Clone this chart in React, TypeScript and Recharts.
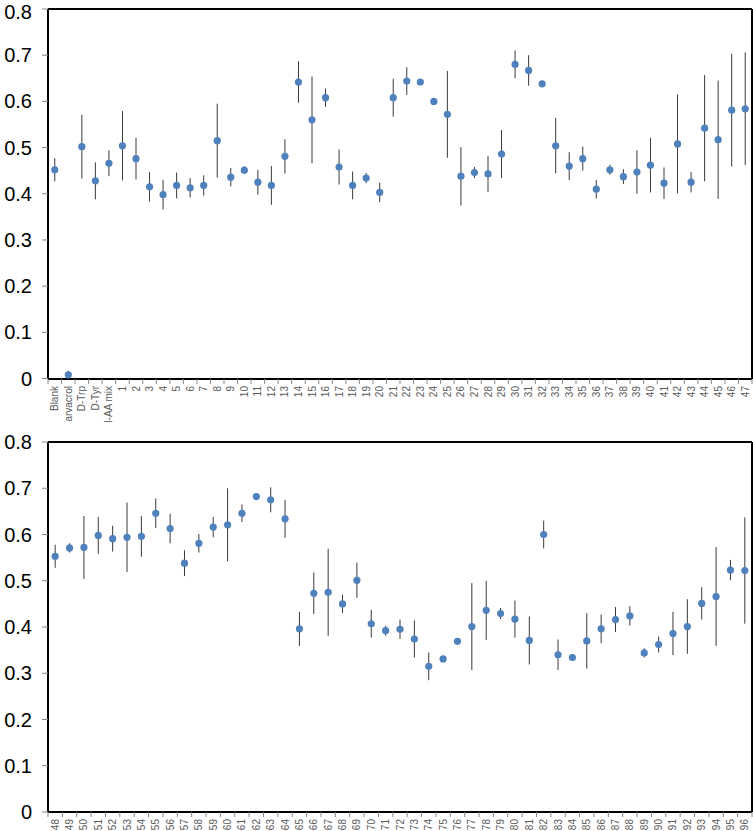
import {
  ComposedChart,
  Scatter,
  ErrorBar,
  XAxis,
  YAxis,
  CartesianGrid,
} from 'recharts'

const topLabels = [
  'Blank', 'arvacrol', 'D-Trp', 'D-Tyr', 'l-AA mix',
  '1', '2', '3', '4', '5', '6', '7', '8', '9', '10',
  '11', '12', '13', '14', '15', '16', '17', '18', '19', '20',
  '21', '22', '23', '24', '25', '26', '27', '28', '29', '30',
  '31', '32', '33', '34', '35', '36', '37', '38', '39', '40',
  '41', '42', '43', '44', '45', '46', '47',
]
const topValues = [
  0.452, 0.008, 0.502, 0.428, 0.466,
  0.504, 0.476, 0.415, 0.398, 0.418, 0.413, 0.418, 0.515, 0.436, 0.451,
  0.425, 0.418, 0.481, 0.642, 0.56, 0.608, 0.458, 0.418, 0.434, 0.403,
  0.608, 0.644, 0.642, 0.6, 0.572, 0.438, 0.446, 0.443, 0.486, 0.68,
  0.667, 0.638, 0.504, 0.46, 0.476, 0.41, 0.452, 0.437, 0.447, 0.462,
  0.423, 0.508, 0.425, 0.542, 0.517, 0.581, 0.584,
]
const topErrors = [
  0.025, 0.009, 0.069, 0.04, 0.028,
  0.075, 0.045, 0.032, 0.032, 0.028, 0.021, 0.022, 0.08, 0.02, 0.008,
  0.027, 0.042, 0.037, 0.045, 0.094, 0.02, 0.038, 0.03, 0.011, 0.021,
  0.041, 0.03, 0.002, 0.005, 0.094, 0.063, 0.012, 0.039, 0.052, 0.03,
  0.033, 0.002, 0.06, 0.03, 0.026, 0.02, 0.011, 0.016, 0.047, 0.059,
  0.034, 0.107, 0.022, 0.115, 0.128, 0.122, 0.122,
]

const bottomLabels = [
  '48', '49', '50', '51', '52', '53', '54', '55', '56', '57',
  '58', '59', '60', '61', '62', '63', '64', '65', '66', '67',
  '68', '69', '70', '71', '72', '73', '74', '75', '76', '77',
  '78', '79', '80', '81', '82', '83', '84', '85', '86', '87',
  '88', '89', '90', '91', '92', '93', '94', '95', '96',
]
const bottomValues = [
  0.553, 0.571, 0.572, 0.598, 0.591, 0.594, 0.596, 0.646, 0.613, 0.538,
  0.581, 0.616, 0.621, 0.646, 0.682, 0.675, 0.634, 0.396, 0.473, 0.475,
  0.45, 0.501, 0.407, 0.392, 0.395, 0.374, 0.315, 0.331, 0.369, 0.401,
  0.436, 0.429, 0.417, 0.371, 0.6, 0.34, 0.334, 0.37, 0.396, 0.416,
  0.424, 0.344, 0.362, 0.386, 0.401, 0.451, 0.466, 0.523, 0.522,
]
const bottomErrors = [
  0.025, 0.01, 0.068, 0.04, 0.028, 0.075, 0.044, 0.032, 0.032, 0.028,
  0.02, 0.022, 0.079, 0.019, 0.006, 0.027, 0.041, 0.037, 0.045, 0.094,
  0.02, 0.038, 0.03, 0.011, 0.021, 0.04, 0.03, 0.002, 0.007, 0.094,
  0.064, 0.012, 0.04, 0.052, 0.03, 0.033, 0.002, 0.06, 0.031, 0.027,
  0.021, 0.01, 0.017, 0.047, 0.059, 0.035, 0.107, 0.022, 0.115,
]

const yTicks = [0, 0.1, 0.2, 0.3, 0.4, 0.5, 0.6, 0.7, 0.8]

const FONT = '"Liberation Sans", Arial, sans-serif'
const WIDTH = 753
const PLOT_W = 704

function XTick(props: any) {
  const { x, y, payload, index, band, count } = props
  const ty = y + 2
  return (
    <g>
      <line x1={x - band / 2} x2={x - band / 2} y1={y - 5} y2={y} stroke="#868686" />
      {index === count - 1 && (
        <line x1={x + band / 2} x2={x + band / 2} y1={y - 5} y2={y} stroke="#868686" />
      )}
      <text
        x={x}
        y={ty}
        transform={`rotate(-90 ${x} ${ty})`}
        textAnchor="end"
        dy="0.35em"
        fontSize={10}
        fontFamily={FONT}
        fill="#595959"
      >
        {payload.value}
      </text>
    </g>
  )
}

function Dot(props: any) {
  return <circle cx={props.cx} cy={props.cy} r={3.6} fill="#4f81bd" />
}

function Panel({ labels, values, errors, height, top, xHeight }: any) {
  const data = labels.map((name: string, i: number) => ({
    name,
    v: values[i],
    e: errors[i],
  }))
  const band = PLOT_W / labels.length
  return (
    <ComposedChart
      width={WIDTH}
      height={height}
      data={data}
      margin={{ top, right: 1, bottom: 0, left: 0 }}
    >
      {/* top and right frame lines */}
      <CartesianGrid
        stroke="#000"
        strokeWidth={2}
        horizontalCoordinatesGenerator={({ offset }: any) => [offset.top]}
        verticalCoordinatesGenerator={({ offset }: any) => [offset.left + offset.width]}
      />
      <XAxis
        dataKey="name"
        type="category"
        interval={0}
        height={xHeight}
        padding={{ left: band / 2, right: band / 2 }}
        tickSize={5}
        tickMargin={0}
        tickLine={false}
        axisLine={{ stroke: '#000', strokeWidth: 2 }}
        tick={<XTick band={band} count={labels.length} />}
      />
      <YAxis
        domain={[0, 0.8]}
        ticks={yTicks}
        width={48}
        tickSize={6}
        tickMargin={10}
        tickLine={{ stroke: '#868686' }}
        axisLine={{ stroke: '#000', strokeWidth: 2 }}
        tick={{ fontSize: 20, fill: '#000', fontFamily: FONT }}
        tickFormatter={(v: number) => (v === 0 ? '0' : v.toFixed(1))}
      />
      <Scatter dataKey="v" shape={<Dot />} isAnimationActive={false}>
        <ErrorBar
          dataKey="e"
          direction="y"
          width={0}
          stroke="#3a3a3a"
          strokeWidth={1}
          isAnimationActive={false}
        />
      </Scatter>
    </ComposedChart>
  )
}

export default function App() {
  return (
    <div
      style={{
        position: 'absolute',
        left: 0,
        top: 0,
        width: WIDTH,
        height: 831,
        background: '#fff',
      }}
    >
      <Panel
        labels={topLabels}
        values={topValues}
        errors={topErrors}
        height={422}
        top={9}
        xHeight={43}
      />
      <Panel
        labels={bottomLabels}
        values={bottomValues}
        errors={bottomErrors}
        height={409}
        top={20}
        xHeight={19}
      />
    </div>
  )
}
